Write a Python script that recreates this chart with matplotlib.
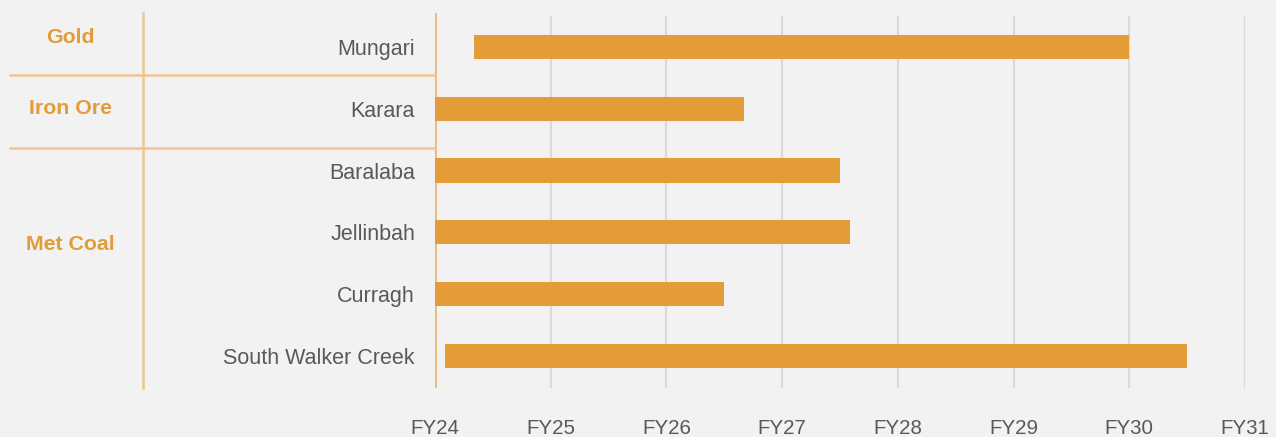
import matplotlib.pyplot as plt
from matplotlib.lines import Line2D

# data
projects = ['Mungari', 'Karara', 'Baralaba', 'Jellinbah', 'Curragh', 'South Walker Creek']
starts = [24.34, 24.0, 24.0, 24.0, 24.0, 24.09]
ends = [30.0, 26.67, 27.5, 27.59, 26.5, 30.5]
groups = ['Gold', 'Iron Ore', 'Met Coal']
group_rows = [-0.16, 0.99, 3.2]
years = [24, 25, 26, 27, 28, 29, 30, 31]
year_labels = ['FY24', 'FY25', 'FY26', 'FY27', 'FY28', 'FY29', 'FY30', 'FY31']

plt.rcParams['font.family'] = ['Liberation Sans', 'DejaVu Sans']

bg = '#f2f2f2'
bar_col = '#e39c37'
line_col = '#f0c590'
txt = '#595959'

W, H = 1276, 437
fig = plt.figure(figsize=(W / 100, H / 100), dpi=100, facecolor=bg)
ax = fig.add_axes([435 / W, 1 - 388 / H, 810 / W, 375 / H])
ax.set_facecolor(bg)

ys = list(range(len(projects)))
widths = [e - s for s, e in zip(starts, ends)]
ax.barh(ys, widths, left=starts, height=0.39, color=bar_col, zorder=3)

ax.set_xlim(24, 31)
ax.set_ylim(5.52, -0.55)
ax.set_xticks(years)
ax.set_xticklabels(year_labels, fontsize=14.8, color=txt)
ax.tick_params(axis='x', length=0, pad=22)
ax.set_yticks(ys)
ax.set_yticklabels(projects, fontsize=15.5, color=txt)
ax.tick_params(axis='y', length=0, pad=14.4)
for sp in ax.spines.values():
    sp.set_visible(False)

for x in years[1:]:
    ax.axvline(x, color='#dadada', lw=1.6, ymin=0, ymax=0.99, zorder=1)
ax.axvline(24, color='#ebb87a', lw=2, zorder=2)

# left table lines (figure pixels)
def fx(p):
    return p / W

def fy(p):
    return 1 - p / H

fig.add_artist(Line2D([fx(143), fx(143)], [fy(13), fy(388)], color=line_col, lw=1.8))
for yp in [75, 148]:
    fig.add_artist(Line2D([fx(10), fx(435)], [fy(yp), fy(yp)], color=line_col, lw=1.8))

for g, r in zip(groups, group_rows):
    ax.text(-0.4506, r, g, transform=ax.get_yaxis_transform(), ha='center', va='center',
            fontsize=15.3, fontweight='bold', color=bar_col)

fig.savefig('out.png', dpi=100, facecolor=bg)
